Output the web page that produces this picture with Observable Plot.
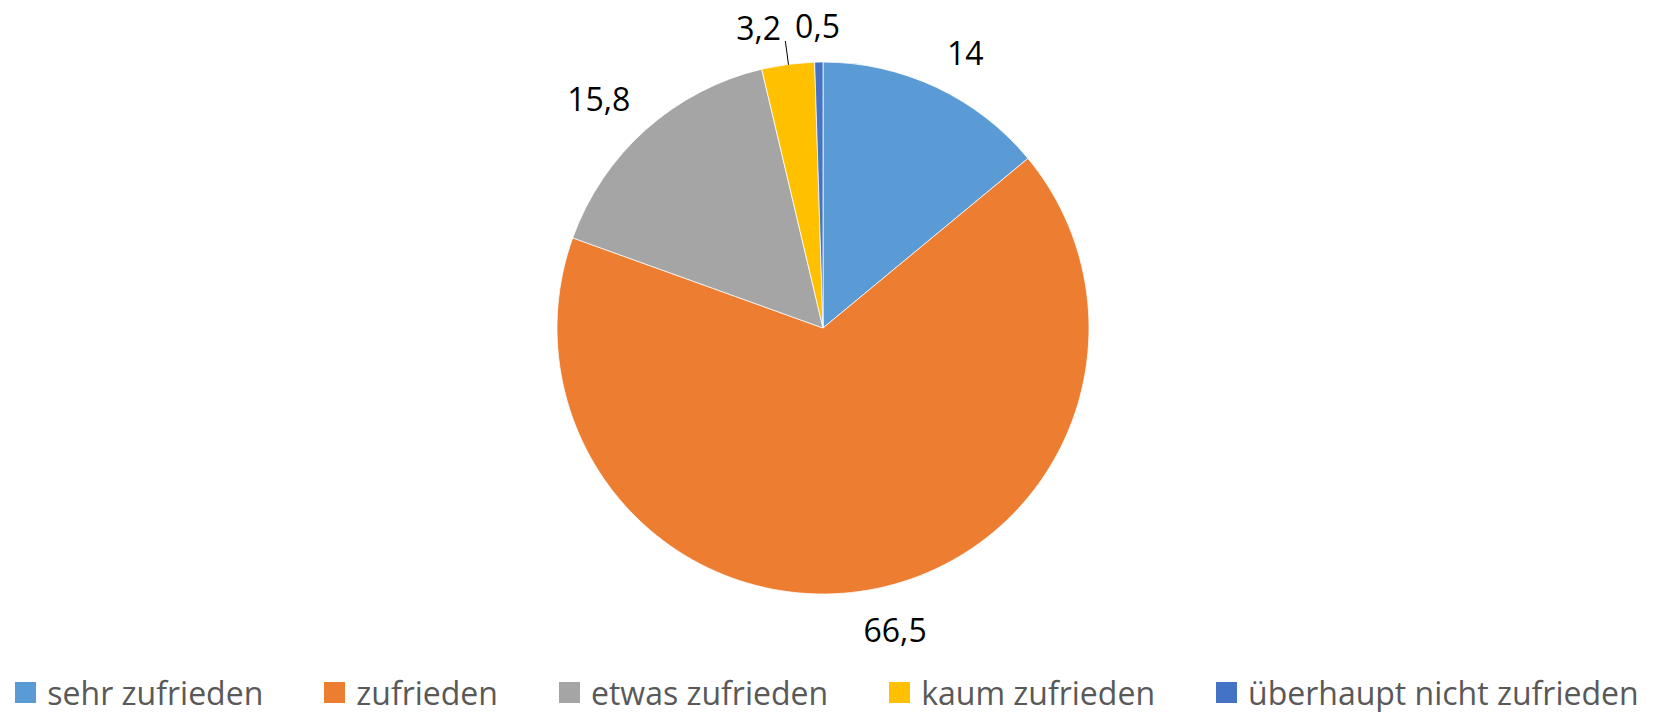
<!DOCTYPE html>
<html>
<head>
<meta charset="utf-8">
<script src="https://cdn.jsdelivr.net/npm/d3@7"></script>
<script src="https://cdn.jsdelivr.net/npm/@observablehq/plot@0.6"></script>
<style>
  html, body { margin: 0; padding: 0; background: #fff; overflow: hidden; }
  #chart { width: 1654px; }
  .legend { display: flex; justify-content: center; align-items: center; gap: 61px;
            height: 40px; font-family: "Open Sans", sans-serif; font-size: 32px; color: #595959; }
  .legend .item { display: flex; align-items: center; white-space: nowrap; }
  .legend .sw { width: 21px; height: 21px; margin-right: 11px; display: inline-block; }
</style>
</head>
<body>
<div id="chart"></div>
<script>
// ---- data ----
const categories = ["sehr zufrieden", "zufrieden", "etwas zufrieden", "kaum zufrieden", "überhaupt nicht zufrieden"];
const values = [14, 66.5, 15.8, 3.2, 0.5];
const valueLabels = ["14", "66,5", "15,8", "3,2", "0,5"];
const colors = ["#5B9BD5", "#ED7D31", "#A5A5A5", "#FFC000", "#4472C4"];

// ---- layout ----
const W = 1654, H = 672;
const mL = 557, mR = 565, mT = 62, mB = 78;
const R = (W - mL - mR) / 2; // pixel radius
const FONT = "'Open Sans', sans-serif";
const FS = 32;

const rows = categories.map((c, i) => ({category: c, value: values[i], label: valueLabels[i]}));
const arcs = d3.pie().sort(null).value(d => d.value)(rows);

// measure label widths
const ctx = document.createElement("canvas").getContext("2d");
ctx.font = `${FS}px ${FONT}`;
const clamp = v => Math.max(-1, Math.min(1, v));
const gap = 24, halfTop = 11, halfBottom = 18, pad = 7;

const labels = arcs.map(a => {
  const t = (a.startAngle + a.endAngle) / 2;
  const s = Math.sin(t), c = Math.cos(t);
  const w = ctx.measureText(a.data.label).width;
  const px = (R + gap) * s + (w / 2) * clamp(4 * s);
  const py = -(R + gap) * c - (c >= 0 ? halfTop : halfBottom) * clamp(4 * c);
  return {label: a.data.label, t, s, c, w, px, py, px0: px, moved: false};
});
// resolve overlaps between neighbouring labels
for (let i = labels.length - 2; i >= 0; --i) {
  const a = labels[i], b = labels[i + 1];
  const overlapX = Math.abs(a.px - b.px) < (a.w + b.w) / 2 + 2 * pad;
  const overlapY = Math.abs(a.py - b.py) < 2 * halfTop + 2 * pad;
  if (overlapX && overlapY) {
    const dir = a.px <= b.px ? -1 : 1;
    a.px = b.px + dir * ((a.w + b.w) / 2 + 2 * pad);
    a.moved = Math.abs(a.px - a.px0) > 5;
  }
}
const labelData = labels.map(l => ({label: l.label, x: l.px / R, y: -l.py / R}));
const leaders = labels.filter(l => l.moved).map(l => ({
  x1: (R + gap) / R * l.s, y1: (R + gap) / R * l.c,
  x2: l.s, y2: l.c
}));

const plot = Plot.plot({
  width: W, height: H,
  marginLeft: mL, marginRight: mR, marginTop: mT, marginBottom: mB,
  x: {domain: [-1, 1], axis: null},
  y: {domain: [-1, 1], axis: null},
  color: {domain: categories, range: colors},
  style: {fontFamily: FONT, fontSize: FS + "px", background: "#fff", overflow: "visible"},
  marks: [
    Plot.dot(rows, {
      x: () => 0, y: () => 0, fill: "category",
      render: (index, scales, vals) => {
        const cx = scales.x(0), cy = scales.y(0), r = scales.x(1) - cx;
        const arc = d3.arc().innerRadius(0).outerRadius(r);
        const pies = d3.pie().sort(null).value(i => rows[i].value)(Array.from(index));
        const g = d3.create("svg:g").attr("transform", `translate(${cx},${cy})`);
        g.selectAll("path").data(pies).join("path")
          .attr("d", arc)
          .attr("fill", d => vals.fill[d.data])
          .attr("stroke", "#fff")
          .attr("stroke-width", 0.75);
        return g.node();
      }
    }),
    Plot.link(leaders, {x1: "x1", y1: "y1", x2: "x2", y2: "y2", stroke: "#000", strokeWidth: 1}),
    Plot.text(labelData, {x: "x", y: "y", text: "label", fill: "#000", fontSize: FS,
      textAnchor: "middle", lineAnchor: "middle"})
  ]
});
document.getElementById("chart").appendChild(plot);

// legend (HTML, below the SVG)
const legend = d3.select("body").append("div").attr("class", "legend");
categories.forEach((c, i) => {
  const it = legend.append("div").attr("class", "item");
  it.append("span").attr("class", "sw").style("background", colors[i]);
  it.append("span").text(c);
});
</script>
</body>
</html>
